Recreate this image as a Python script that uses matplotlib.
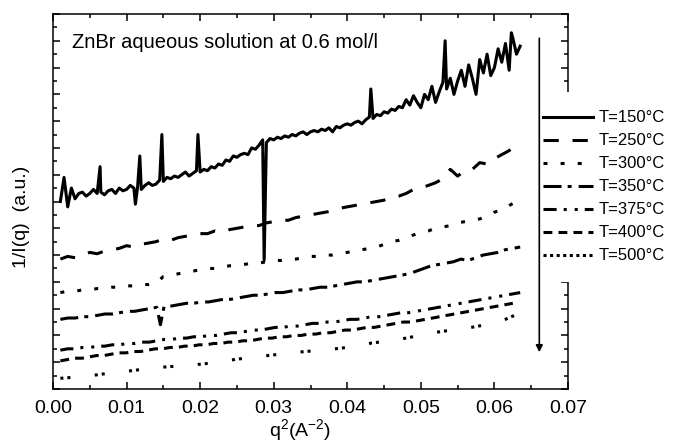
import numpy as np
import matplotlib
matplotlib.use("Agg")
import matplotlib.pyplot as plt  # noqa: E402
from matplotlib.lines import Line2D  # noqa: E402
from matplotlib.ticker import MultipleLocator  # noqa: E402

plt.rcParams["font.family"] = ["Liberation Sans", "DejaVu Sans"]
plt.rcParams["mathtext.fontset"] = "custom"
plt.rcParams["mathtext.rm"] = "Liberation Sans"
plt.rcParams["mathtext.it"] = "Liberation Sans:italic"

# --- data (1/I(q), arbitrary units, vs q^2) ---
LABELS = ["T=150°C", "T=250°C", "T=300°C", "T=350°C", "T=375°C", "T=400°C", "T=500°C"]

t150 = [7.0, 7.9, 6.8, 7.5, 7.1, 7.3, 7.35, 7.2, 7.3, 7.45,
        7.3, 7.35, 7.25, 7.4, 7.45, 7.3, 7.5, 7.4, 7.45, 7.6,
        7.5, 7.55, 7.45, 7.6, 7.7, 7.6, 7.65, 7.8, 7.75, 7.9,
        7.85, 7.95, 7.9, 8.0, 8.1, 7.95, 8.05, 8.15, 8.1, 8.2,
        8.15, 8.3, 8.25, 8.4, 8.35, 8.55, 8.5, 8.7, 8.65, 8.75,
        8.8, 8.75, 9.0, 8.95, 9.1, 9.3, 9.2, 9.35, 9.3, 9.4,
        9.35, 9.45, 9.4, 9.5, 9.45, 9.55, 9.6, 9.5, 9.6, 9.65,
        9.6, 9.7, 9.65, 9.75, 9.6, 9.8, 9.75, 9.85, 9.9, 9.85,
        9.95, 10.0, 9.9, 10.05, 10.15, 10.1, 10.25, 10.2, 10.35, 10.3,
        10.45, 10.4, 10.55, 10.5, 10.8, 10.6, 10.95, 10.7, 10.5, 11.0,
        10.8, 11.3, 10.7, 11.1, 11.45, 11.2, 11.6, 11.0, 11.5, 11.9,
        11.3, 12.1, 11.6, 11.0, 12.3, 11.8, 12.5, 11.7, 12.0, 12.7,
        12.2, 12.9, 11.9, 13.1, 12.5, 12.8]
t150_spike_x = [0.0064, 0.0112, 0.0118, 0.0148, 0.0197, 0.0287, 0.0432, 0.0533, 0.0623]
t150_spike_y = [8.3, 6.9, 8.7, 9.5, 9.5, 4.8, 11.2, 13.0, 13.3]

t250 = [4.85, 4.95, 4.9, 5.0, 5.1, 5.05, 5.15, 5.2, 5.25, 5.35,
        5.3, 5.4, 5.45, 5.5, 5.6, 5.55, 5.65, 5.7, 5.75, 5.8,
        5.8, 5.9, 5.85, 5.95, 6.0, 6.05, 6.1, 6.1, 6.2, 6.25,
        6.3, 6.3, 6.4, 6.45, 6.5, 6.55, 6.6, 6.65, 6.75, 6.8,
        6.85, 6.9, 6.95, 7.0, 7.05, 7.15, 7.2, 7.3, 7.45, 7.5,
        7.6, 7.7, 7.85, 8.2, 7.95, 8.15, 8.2, 8.45, 8.4, 8.6,
        8.75, 8.9, 9.1]
t300 = [3.6, 3.65, 3.65, 3.7, 3.7, 3.75, 3.75, 3.8, 3.8, 3.85,
        3.85, 3.9, 3.9, 3.95, 4.2, 4.25, 4.3, 4.35, 4.4, 4.45,
        4.5, 4.5, 4.55, 4.6, 4.6, 4.65, 4.7, 4.7, 4.75, 4.8,
        4.8, 4.85, 4.85, 4.9, 4.95, 4.95, 5.0, 5.0, 5.05, 5.1,
        5.15, 5.2, 5.25, 5.3, 5.4, 5.5, 5.55, 5.65, 5.75, 5.85,
        5.9, 6.0, 6.05, 6.1, 6.2, 6.25, 6.3, 6.35, 6.45, 6.6,
        6.7, 6.85, 7.0]
t350 = [2.6, 2.65, 2.65, 2.7, 2.7, 2.75, 2.8, 2.8, 2.85, 2.9,
        2.9, 2.95, 3.0, 3.05, 3.1, 3.1, 3.15, 3.2, 3.2, 3.25,
        3.25, 3.3, 3.35, 3.35, 3.4, 3.45, 3.5, 3.5, 3.55, 3.6,
        3.6, 3.65, 3.7, 3.7, 3.75, 3.8, 3.8, 3.85, 3.9, 3.95,
        4.0, 4.0, 4.05, 4.1, 4.15, 4.2, 4.25, 4.3, 4.4, 4.5,
        4.6, 4.65, 4.7, 4.75, 4.85, 4.8, 4.9, 5.0, 5.05, 5.1,
        5.2, 5.25, 5.3]
t350_spike_x = [0.0146]
t350_spike_y = [2.4]
t375 = [1.45, 1.5, 1.5, 1.55, 1.55, 1.6, 1.6, 1.65, 1.65, 1.7,
        1.7, 1.75, 1.75, 1.8, 1.85, 1.85, 1.9, 1.9, 1.95, 1.95,
        2.0, 2.0, 2.05, 2.1, 2.1, 2.15, 2.2, 2.2, 2.25, 2.3,
        2.3, 2.35, 2.35, 2.4, 2.45, 2.45, 2.5, 2.5, 2.55, 2.6,
        2.6, 2.65, 2.7, 2.7, 2.75, 2.8, 2.85, 2.85, 2.9, 2.95,
        3.0, 3.05, 3.1, 3.15, 3.2, 3.25, 3.3, 3.35, 3.4, 3.45,
        3.5, 3.55, 3.6]
t400 = [1.05, 1.1, 1.15, 1.15, 1.2, 1.25, 1.25, 1.3, 1.35, 1.35,
        1.4, 1.4, 1.45, 1.5, 1.5, 1.55, 1.55, 1.6, 1.6, 1.65,
        1.65, 1.7, 1.7, 1.75, 1.75, 1.8, 1.8, 1.85, 1.9, 1.9,
        1.95, 1.95, 2.0, 2.0, 2.05, 2.05, 2.1, 2.1, 2.15, 2.2,
        2.2, 2.25, 2.3, 2.3, 2.35, 2.4, 2.45, 2.5, 2.5, 2.55,
        2.6, 2.65, 2.7, 2.75, 2.8, 2.85, 2.9, 2.95, 3.0, 3.05,
        3.1, 3.15, 3.2]
t500 = [0.4, 0.42, 0.45, 0.48, 0.5, 0.53, 0.57, 0.6, 0.63, 0.66,
        0.7, 0.73, 0.77, 0.8, 0.82, 0.84, 0.86, 0.88, 0.9, 0.93,
        0.96, 1.0, 1.04, 1.08, 1.12, 1.15, 1.18, 1.21, 1.25, 1.28,
        1.31, 1.34, 1.37, 1.4, 1.42, 1.45, 1.48, 1.5, 1.53, 1.57,
        1.6, 1.65, 1.72, 1.75, 1.8, 1.83, 1.87, 1.92, 1.98, 2.05,
        2.1, 2.13, 2.17, 2.2, 2.24, 2.28, 2.33, 2.38, 2.44, 2.5,
        2.6, 2.72, 2.84]

# dash patterns (in linewidth units): (in-plot, legend)
STYLES = [
    ("-", "-"),
    ((0, (5, 4.5)), (0, (5, 4.5))),
    ((0, (1.3, 4.3)), (0, (1.3, 4.3))),
    ((0, (5.9, 2, 1.3, 2.3)), (0, (5.9, 2, 1.3, 2.3))),
    ((0, (4.3, 2.3, 1, 2.6, 1, 2.3)), (0, (4.3, 2.3, 1, 2.6, 1, 2.3))),
    ((0, (2.9, 2)), (0, (2.9, 2))),
    ((0, (1, 1.3, 1, 8)), (0, (1, 1.15))),
]
LW = 2.2


def with_spikes(y, x0, x1, sx=(), sy=()):
    x = np.linspace(x0, x1, len(y))
    xs = np.concatenate([x, sx])
    ys = np.concatenate([y, sy])
    order = np.argsort(xs)
    return xs[order], ys[order]


fig = plt.figure(figsize=(6.75, 4.46), dpi=100)
ax = fig.add_axes([53 / 675, 1 - 389 / 446, 515 / 675, 375 / 446])

series = [
    with_spikes(t150, 0.001, 0.0635, t150_spike_x, t150_spike_y),
    with_spikes(t250, 0.001, 0.063),
    with_spikes(t300, 0.001, 0.063),
    with_spikes(t350, 0.001, 0.0635, t350_spike_x, t350_spike_y),
    with_spikes(t375, 0.001, 0.0635),
    with_spikes(t400, 0.001, 0.0625),
    with_spikes(t500, 0.001, 0.0635),
]
for (x, y), (ls, _) in zip(series, STYLES):
    ax.plot(x, y, color="black", lw=LW, linestyle=ls)

ax.set_xlim(0, 0.07)
ax.set_ylim(0, 14)
ax.xaxis.set_major_locator(MultipleLocator(0.01))
ax.xaxis.set_minor_locator(MultipleLocator(0.005))
ax.yaxis.set_major_locator(MultipleLocator(1))
ax.yaxis.set_minor_locator(MultipleLocator(0.5))
ax.xaxis.set_major_formatter(lambda v, p: f"{v:.2f}")
ax.tick_params(which="both", direction="in", top=True, right=True, width=1.1,
               labelleft=False, labelsize=14, pad=8)
ax.tick_params(which="major", length=5)
ax.tick_params(which="minor", length=2.8)
for s in ax.spines.values():
    s.set_linewidth(1.1)

ax.set_xlabel("q$^{2}$(A$^{-2}$)", fontsize=14, va="center")
ax.xaxis.set_label_coords(0.48, -0.11)
ax.set_ylabel("1/I(q)  (a.u.)", fontsize=14, va="center", ha="center")
ax.yaxis.set_label_coords(-0.062, 0.46)

ax.text(0.0026, 12.95, "ZnBr aqueous solution at 0.6 mol/l", fontsize=14.5, va="center")

ax.annotate("", xy=(0.0661, 1.27), xytext=(0.0661, 13.2),
            arrowprops=dict(arrowstyle="-|>", lw=1.2, color="black", mutation_scale=10),
            zorder=6, annotation_clip=False)

handles = [Line2D([], [], color="black", lw=LW, linestyle=leg) for _, leg in STYLES]
leg = ax.legend(handles, LABELS, loc="upper left", bbox_to_anchor=(525 / 675, 1 - 92 / 446),
                bbox_transform=fig.transFigure, borderaxespad=0, frameon=True,
                fancybox=False, edgecolor="none", facecolor="white", framealpha=1,
                fontsize=12, handlelength=3.0, handletextpad=0.3, labelspacing=0.48,
                borderpad=1.1)

fig.savefig("out.png", dpi=100)
